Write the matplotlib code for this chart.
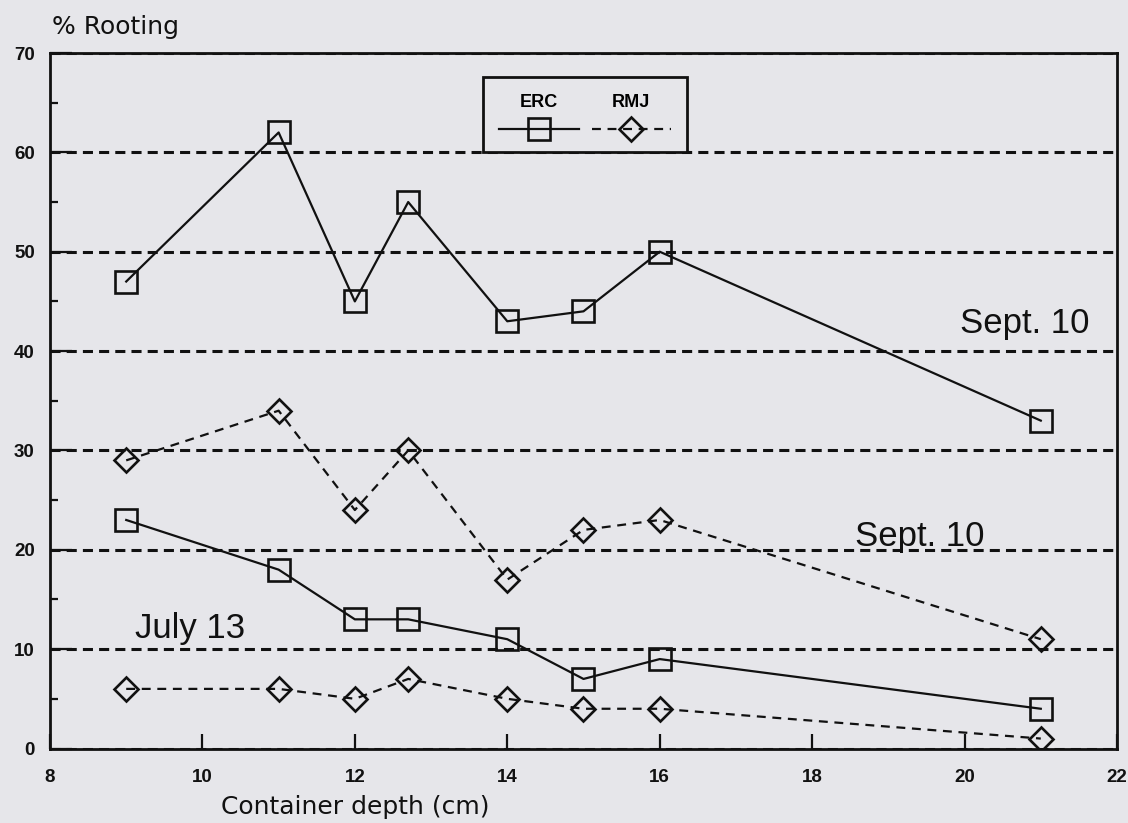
import matplotlib
matplotlib.use("Agg")
import matplotlib.pyplot as plt
from matplotlib.lines import Line2D
from matplotlib.offsetbox import VPacker

# Data
depth = [9, 11, 12, 12.7, 14, 15, 16, 21]
erc_sept = [47, 62, 45, 55, 43, 44, 50, 33]
rmj_sept = [29, 34, 24, 30, 17, 22, 23, 11]
erc_july = [23, 18, 13, 13, 11, 7, 9, 4]
rmj_july = [6, 6, 5, 7, 5, 4, 4, 1]

x_ticks = [8, 10, 12, 14, 16, 18, 20, 22]
y_ticks = [0, 10, 20, 30, 40, 50, 60, 70]
y_minor = [5, 15, 25, 35, 45, 55, 65]

bg = '#e6e6ea'
ink = '#111111'

fig = plt.figure(figsize=(11.28, 8.23), dpi=100, facecolor=bg)
ax = fig.add_axes([50 / 1128, 1 - 748.5 / 823, 1067 / 1128, 695.5 / 823])
ax.set_facecolor(bg)

# Series styles
erc_style = dict(color=ink, lw=1.6, marker='s', ms=16, mfc='none', mec=ink, mew=1.9)
rmj_style = dict(color=ink, lw=1.6, ls=(0, (4, 3)), marker='D', ms=12, mfc='none', mec=ink, mew=1.9)

ax.plot(depth, erc_sept, zorder=3, **erc_style)
ax.plot(depth, rmj_sept, zorder=3, **rmj_style)
ax.plot(depth, erc_july, zorder=3, **erc_style)
ax.plot(depth, rmj_july, zorder=3, **rmj_style)

ax.set_xlim(8, 22)
ax.set_ylim(0, 70)
ax.set_xticks(x_ticks)
ax.set_yticks(y_ticks)
ax.set_yticks(y_minor, minor=True)

tick_font = dict(family='Liberation Sans', weight='bold', size=13.5)
ax.set_xticklabels([str(v) for v in x_ticks], fontdict=tick_font)
ax.set_yticklabels([str(v) for v in y_ticks], fontdict=tick_font)
ax.tick_params(axis='x', direction='in', length=11, width=1.6, pad=15, colors=ink)
ax.tick_params(axis='y', which='major', direction='in', length=16, width=1.6, pad=11, colors=ink)
ax.tick_params(axis='y', which='minor', direction='in', length=6, width=1.6, colors=ink)

for s in ax.spines.values():
    s.set_linewidth(2)
    s.set_color(ink)

# dashed horizontal grid
ax.yaxis.grid(True, which='major', color=ink, lw=2.2, ls=(0, (3.3, 2)))
ax.set_axisbelow(True)

# axis titles
fig.text(52 / 1128, 1 - 27 / 823, '% Rooting', fontsize=18, family='DejaVu Sans',
         va='center', ha='left', color=ink)
ax.set_xlabel('Container depth (cm)', fontsize=18, family='DejaVu Sans', color=ink)
ax.xaxis.label.set_va('center')
ax.xaxis.set_label_coords((355 - 50) / 1067, -(807 - 748.5) / 695.5)

# curve annotations
note_font = dict(fontsize=25, family='Liberation Sans', color=ink, va='baseline', ha='left')
ax.text(19.94, 41.8, 'Sept. 10', **note_font)
ax.text(18.56, 20.4, 'Sept. 10', **note_font)
ax.text(9.12, 11.1, 'July 13', **note_font)

# legend: labels above the line samples
handles = [Line2D([], [], **erc_style), Line2D([], [], **rmj_style)]
leg = ax.legend(handles, ['ERC', 'RMJ'], ncol=2, loc='upper left',
                bbox_to_anchor=(0.406, 0.965), borderaxespad=0, fancybox=False,
                edgecolor=ink, facecolor=bg, framealpha=1, handlelength=4.4,
                columnspacing=0.7, borderpad=0.9,
                prop=dict(family='Liberation Sans', weight='bold', size=13))
leg.get_frame().set_linewidth(2)
leg.set_zorder(5)
for col in leg._legend_handle_box.get_children():
    col._children = [VPacker(pad=0, sep=9, align='center', children=row.get_children()[::-1])
                     for row in col.get_children()]

fig.savefig('out.png', dpi=100, facecolor=bg)
